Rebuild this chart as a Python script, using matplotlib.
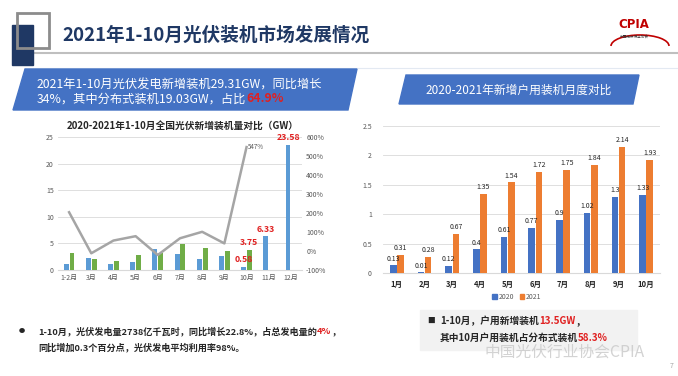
import matplotlib.pyplot as plt
from matplotlib.patches import Polygon, Rectangle, Arc, Patch
from matplotlib.lines import Line2D

plt.rcParams['font.family'] = ['Noto Sans CJK SC', 'DejaVu Sans']

# 左图: 2020-2021年1-10月全国光伏新增装机量 (GW)
months_all = ['1-2月', '3月', '4月', '5月', '6月', '7月', '8月', '9月', '10月', '11月', '12月']
gw_2020 = [1.07, 2.32, 1.13, 1.57, 3.96, 2.95, 2.06, 2.70, 0.58, 6.33, 23.58]
gw_2021 = [3.27, 2.07, 1.76, 2.83, 3.14, 4.96, 4.10, 3.60, 3.75]
growth = [204, -12, 55, 78, -21, 67, 101, 40, 547]
left_yticks = [0, 5, 10, 15, 20, 25]
right_yticks = [-100, 0, 100, 200, 300, 400, 500, 600]

# 右图: 2020-2021年新增户用装机月度对比
months_hh = ['1月', '2月', '3月', '4月', '5月', '6月', '7月', '8月', '9月', '10月']
hh_2020 = [0.13, 0.01, 0.12, 0.4, 0.61, 0.77, 0.9, 1.02, 1.3, 1.33]
hh_2021 = [0.31, 0.28, 0.67, 1.35, 1.54, 1.72, 1.75, 1.84, 2.14, 1.93]
hh_yticks = [0, 0.5, 1, 1.5, 2, 2.5]

navy = '#1F3864'
blue_banner = '#4472C4'
red = '#E02020'
tick_c = '#595959'
grid_c = '#D9D9D9'

W, H = 678, 376
fig = plt.figure(figsize=(W / 100, H / 100), dpi=100)

# background axes in pixel coords (y down)
bg = fig.add_axes([0, 0, 1, 1])
bg.set_xlim(0, W)
bg.set_ylim(H, 0)
bg.axis('off')

# header decoration
bg.add_patch(Rectangle((12, 25), 21, 40, color=navy, zorder=2))
bg.add_patch(Rectangle((17, 13), 32, 35, fill=False, edgecolor='#8C8C8C', lw=2, zorder=3))
bg.plot([33, W], [53, 53], color='#BFBFBF', lw=1.5, zorder=1)
bg.plot([25, W], [68, 68], color='#E3E9F2', lw=0.8, zorder=1)
bg.text(62, 35, '2021年1-10月光伏装机市场发展情况', fontsize=13.4, fontweight='bold',
        color=navy, va='center', ha='left')

# CPIA logo
bg.text(634, 25, 'CPIA', fontsize=8.5, fontweight='bold', color='#C00000', ha='center', va='center',
        family=['DejaVu Sans'])
bg.add_patch(Arc((640, 46), 58, 22, theta1=180, theta2=360, color='#C00000', lw=1.2))
bg.text(634, 37, '中国光伏行业协会', fontsize=2.6, color='#333333', ha='center', va='center')

# left banner
bg.add_patch(Polygon([(25, 69), (357, 69), (348, 110), (13, 110)], closed=True, color=blue_banner))
bg.text(37, 85, '2021年1-10月光伏发电新增装机29.31GW，同比增长', fontsize=8.8, color='white',
        va='center', ha='left')
t = bg.text(37, 99, '34%，其中分布式装机19.03GW，占比', fontsize=8.8, color='white',
            va='center', ha='left')
bg.annotate('64.9%', xy=(1, 0), xycoords=t, fontsize=8.8, color=red, fontweight='bold',
            va='bottom', ha='left')

# right banner
bg.add_patch(Polygon([(406, 75), (639, 75), (633, 104), (399, 104)], closed=True, color=blue_banner))
bg.text(519, 90, '2020-2021年新增户用装机月度对比', fontsize=8.5, color='white',
        va='center', ha='center')

# ---- left chart ----
ax1 = fig.add_axes([58 / W, (H - 270) / H, 244 / W, 133 / H])
x = list(range(len(months_all)))
bw = 0.22
ax1.bar([i - 0.13 for i in x], gw_2020, width=bw, color='#5B9BD5', zorder=3)
ax1.bar([i + 0.13 for i in x[:len(gw_2021)]], gw_2021, width=bw, color='#70AD47', zorder=3)
ax1.set_xlim(-0.5, len(months_all) - 0.5)
ax1.set_ylim(0, 25)
ax1.set_yticks(left_yticks)
ax1.set_xticks(x)
ax1.set_xticklabels(months_all)
ax1.grid(axis='y', color=grid_c, lw=0.6, zorder=0)
ax1.tick_params(length=0, labelsize=5, colors=tick_c, pad=3)
for s in ['top', 'right', 'left']:
    ax1.spines[s].set_visible(False)
ax1.spines['bottom'].set_color(grid_c)

# red value labels for Oct-Dec
for i in [8, 9, 10]:
    ax1.annotate(f'{gw_2020[i]:.2f}', (i - 0.13, gw_2020[i]), xytext=(0, 2), textcoords='offset points',
                 ha='center', va='bottom', fontsize=6.3, color=red, fontweight='bold')
ax1.annotate(f'{gw_2021[8]:.2f}', (8 + 0.13, gw_2021[8]), xytext=(0, 2), textcoords='offset points',
             ha='center', va='bottom', fontsize=6.3, color=red, fontweight='bold')

ax1r = ax1.twinx()
ax1r.plot(x[:len(growth)], growth, color='#A5A5A5', lw=1.8, zorder=4)
ax1r.set_ylim(-100, 600)
ax1r.set_yticks(right_yticks)
ax1r.set_yticklabels([f'{v}%' for v in right_yticks])
ax1r.tick_params(length=0, labelsize=5, colors=tick_c, pad=3)
for s in ax1r.spines.values():
    s.set_visible(False)
ax1r.annotate(f'{growth[-1]}%', (len(growth) - 1, growth[-1]), xytext=(1, 0), textcoords='offset points',
              ha='left', va='center', fontsize=4.5, color=tick_c)

bg.text(183, 126, '2020-2021年1-10月全国光伏新增装机量对比（GW）', fontsize=7, fontweight='bold',
        color='#262626', ha='center', va='center')
h1 = [Line2D([], [], color='#5B9BD5', lw=3),
      Line2D([], [], color='#70AD47', lw=3),
      Line2D([], [], color='#A5A5A5', lw=1)]
bg.legend(h1, ['2020年', '2021年', '同比增长'], loc='center', bbox_to_anchor=(187, 292),
          bbox_transform=bg.transData, ncol=3, frameon=False, fontsize=5, handlelength=2.5,
          columnspacing=1.2, handletextpad=0.3, labelcolor=tick_c)

# ---- right chart ----
ax2 = fig.add_axes([383 / W, (H - 273) / H, 277 / W, 147 / H])
x2 = list(range(len(months_hh)))
b1 = ax2.bar([i - 0.13 for i in x2], hh_2020, width=0.24, color='#4472C4', zorder=3)
b2 = ax2.bar([i + 0.13 for i in x2], hh_2021, width=0.24, color='#ED7D31', zorder=3)
ax2.bar_label(b1, labels=[f'{v:g}' for v in hh_2020], padding=2, fontsize=5, color='#262626')
ax2.bar_label(b2, labels=[f'{v:g}' for v in hh_2021], padding=2, fontsize=5, color='#262626')
ax2.set_xlim(-0.5, len(months_hh) - 0.5)
ax2.set_ylim(0, 2.5)
ax2.set_yticks(hh_yticks)
ax2.set_yticklabels([f'{v:g}' for v in hh_yticks])
ax2.set_xticks(x2)
ax2.set_xticklabels(months_hh, fontweight='bold')
ax2.grid(axis='y', color=grid_c, lw=0.6, zorder=0)
ax2.tick_params(axis='y', length=0, labelsize=5, colors=tick_c, pad=8)
ax2.tick_params(axis='x', length=0, labelsize=5.5, colors='#262626', pad=5)
for s in ['top', 'right', 'left']:
    ax2.spines[s].set_visible(False)
ax2.spines['bottom'].set_color(grid_c)

h2 = [Patch(color='#4472C4'), Patch(color='#ED7D31')]
bg.legend(h2, ['2020', '2021'], loc='center', bbox_to_anchor=(517, 297),
          bbox_transform=bg.transData, ncol=2, frameon=False, fontsize=5, handlelength=0.6,
          handleheight=0.6, columnspacing=0.8, handletextpad=0.3, labelcolor=tick_c)

# ---- bottom left text ----
bg.text(22, 331, '●', fontsize=4.5, color='#262626', ha='center', va='center')
t = bg.text(38, 331, '1-10月，光伏发电量2738亿千瓦时，同比增长22.8%，占总发电量的', fontsize=6.6,
            fontweight='bold', color='#262626', ha='left', va='center')
t = bg.annotate('4%', xy=(1, 0), xycoords=t, fontsize=6.6, fontweight='bold', color=red,
                ha='left', va='bottom')
bg.annotate('，', xy=(1, 0), xycoords=t, fontsize=6.6, fontweight='bold', color='#262626',
            ha='left', va='bottom')
bg.text(38, 347, '同比增加0.3个百分点，光伏发电平均利用率98%。', fontsize=6.6,
        fontweight='bold', color='#262626', ha='left', va='center')

# ---- bottom right box ----
bg.add_patch(Rectangle((420, 310), 217, 40, color='#F2F2F2', zorder=0))
bg.text(431, 321, '■', fontsize=5.5, color='#262626', ha='center', va='center')
t = bg.text(440, 321, '1-10月，户用新增装机', fontsize=7, fontweight='bold', color='#262626',
            ha='left', va='center')
t = bg.annotate('13.5GW', xy=(1, 0), xycoords=t, fontsize=7, fontweight='bold', color=red,
                ha='left', va='bottom')
bg.annotate('，', xy=(1, 0), xycoords=t, fontsize=7, fontweight='bold', color='#262626',
            ha='left', va='bottom')
t = bg.text(440, 338, '其中10月户用装机占分布式装机', fontsize=7, fontweight='bold', color='#262626',
            ha='left', va='center')
bg.annotate('58.3%', xy=(1, 0), xycoords=t, fontsize=7, fontweight='bold', color=red,
            ha='left', va='bottom')

# watermark and page number
bg.text(485, 352, '中国光伏行业协会CPIA', fontsize=11.3, color='#C8C8C8', alpha=0.8,
        ha='left', va='center', zorder=5)
bg.text(672, 366, '7', fontsize=5, color='#A6A6A6', ha='center', va='center')

fig.savefig('out.png', dpi=100)
